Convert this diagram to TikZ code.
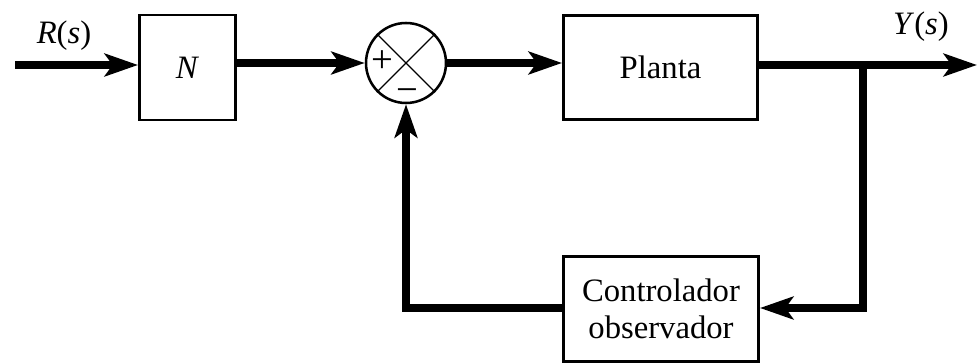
\documentclass[tikz,border=0pt]{standalone}
\usepackage{fontspec}
\setmainfont{Liberation Serif}
\usetikzlibrary{arrows.meta}
\begin{document}
\begin{tikzpicture}[x=0.75pt,y=-0.75pt,
  blockbox/.style={draw, line width=2.2pt, inner sep=0pt, align=center,
    font=\fontsize{24.5}{27.75}\selectfont},
  sig/.style={line width=6pt, line join=miter},
  arr/.style={sig, -{Stealth[length=25pt,width=17pt,inset=6pt]}},
  pm/.style={font=\fontsize{29}{30}\selectfont, inner sep=0pt},
  lbl/.style={font=\fontsize{24.5}{28}\selectfont, inner sep=0pt}]
\useasboundingbox (0,0) rectangle (978,363);
% blocks
\node[blockbox, minimum width=72pt, minimum height=78.75pt] (N) at (187.5,67.5) {\textit{N}};
\node[draw, circle, line width=1.9pt, minimum size=60pt, inner sep=0pt] (S) at (406,63) {};
\draw[line width=0.9pt] (S.north west) -- (S.south east);
\draw[line width=0.9pt] (S.north east) -- (S.south west);
\node[pm] (plus) at (382,62) {+};
\node[pm] (minus) at (407,96) {−};
\node[blockbox, minimum width=145.5pt, minimum height=78pt] (P) at (660.5,67.5) {Planta};
\node[blockbox, minimum width=146.25pt, minimum height=78.75pt] (C) at (661,309) {Controlador\\observador};
% coordinates
\coordinate (in) at (15,65);
\coordinate (out) at (977,65);
\coordinate (br) at (863,65);
\coordinate (brd) at (863,308);
\coordinate (fbl) at (406,308);
% labels
\node[lbl] (R) at (64,36) {\textit{R}(\textit{s})};
\node[lbl] (Y) at (921,27) {\textit{Y}(\textit{s})};
% connectors
\draw[arr] (in) -- (in -| N.west);
\draw[arr] (N.east |- S.west) -- (S.west);
\draw[arr] (S.east) -- (S.east -| P.west);
\draw[arr] (P.east |- out) -- (out);
\draw[arr] (br) -- (brd) -- (brd -| C.east);
\draw[arr] (C.west |- fbl) -- (fbl) -- (S.south);
\end{tikzpicture}
\end{document}
